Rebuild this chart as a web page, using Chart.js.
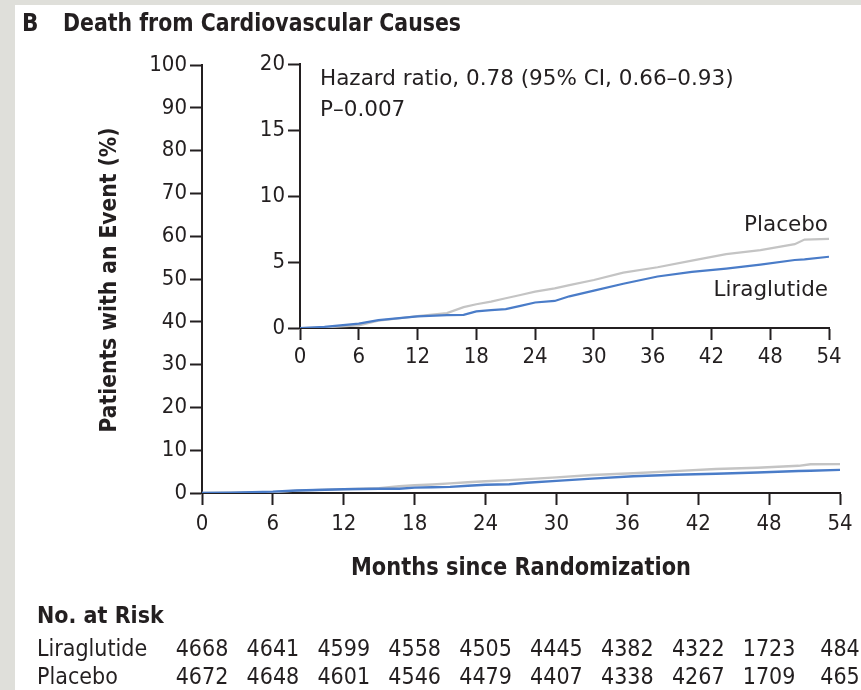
<!DOCTYPE html>
<html>
<head>
<meta charset="utf-8">
<script src="https://cdn.jsdelivr.net/npm/chart.js@4.4.1/dist/chart.umd.min.js"></script>
<style>
  body { margin: 0; background: #dfdfda; }
  #page { position: absolute; left: 15px; top: 5px; width: 846px; height: 685px; background: #fff; }
  canvas { position: absolute; }
  #main { left: 0; top: 0; }
  #inset { left: 230px; top: 40px; }
</style>
</head>
<body>
<div id="page"></div>
<canvas id="main" width="861" height="690"></canvas>
<canvas id="inset" width="631" height="340"></canvas>
<script>
// cumulative incidence (%)
const months      = [0, 2.5, 6, 8, 12, 15, 16.7, 18, 19.5, 21, 22.5, 24, 26, 27.5, 30, 33, 36.5, 40, 43.5, 47, 50.5, 51.5, 54];
const liraglutide = [0, 0.08, 0.33, 0.6, 0.88, 0.98, 1.0, 1.26, 1.35, 1.43, 1.68, 1.93, 2.05, 2.4, 2.83, 3.35, 3.9, 4.25, 4.5, 4.8, 5.15, 5.2, 5.4];
const placebo     = [0, 0.05, 0.2, 0.55, 0.9, 1.13, 1.58, 1.8, 2.0, 2.25, 2.5, 2.75, 3.0, 3.25, 3.64, 4.2, 4.6, 5.1, 5.6, 5.9, 6.35, 6.7, 6.75];

const riskMonths  = [0, 6, 12, 18, 24, 30, 36, 42, 48, 54];
const riskLira    = [4668, 4641, 4599, 4558, 4505, 4445, 4382, 4322, 1723, 484];
const riskPlacebo = [4672, 4648, 4601, 4546, 4479, 4407, 4338, 4267, 1709, 465];

const FONT = '"DejaVu Sans Condensed", "Liberation Sans Narrow", "Noto Sans", sans-serif';
const WIDE = '"DejaVu Sans", "Noto Sans", sans-serif';
const INK = '#231f20';
const BLUE = '#4a7cc8';
const GREY = '#c4c4c4';

function pts(ys) {
    return months.map((m, i) => ({ x: m, y: ys[i] }));
}

function datasets(width) {
    return [
        { label: 'Liraglutide', data: pts(liraglutide), borderColor: BLUE, borderWidth: width, pointRadius: 0, tension: 0 },
        { label: 'Placebo', data: pts(placebo), borderColor: GREY, borderWidth: width, pointRadius: 0, tension: 0 }
    ];
}

function axis(min, max, step, pad, fit) {
    return {
        type: 'linear', min: min, max: max,
        afterFit: fit,
        ticks: { stepSize: step, padding: pad, color: INK, font: { family: FONT, size: 22 } },
        grid: { drawOnChartArea: false, tickLength: 12, tickWidth: 2, tickColor: INK },
        border: { color: INK, width: 2 }
    };
}

function text(ctx, str, x, y, font, align, maxW) {
    ctx.font = font;
    ctx.textAlign = align || 'left';
    ctx.textBaseline = 'middle';
    ctx.fillStyle = INK;
    if (maxW) ctx.fillText(str, x, y, maxW);
    else ctx.fillText(str, x, y);
}

const mainText = {
    id: 'mainText',
    afterDraw(chart) {
        const ctx = chart.ctx;
        const bold = s => 'bold ' + s + 'px ' + FONT;
        const reg = s => s + 'px ' + FONT;
        ctx.save();
        text(ctx, 'B', 22, 25, bold(24));
        text(ctx, 'Death from Cardiovascular Causes', 63, 25, bold(24), 'left', 398);

        ctx.save();
        ctx.translate(110, 280);
        ctx.rotate(-Math.PI / 2);
        text(ctx, 'Patients with an Event (%)', 0, 0, bold(23), 'center', 305);
        ctx.restore();

        text(ctx, 'Months since Randomization', 521, 569, bold(24), 'center', 340);

        text(ctx, 'No. at Risk', 37, 617, bold(23), 'left', 127);
        text(ctx, 'Liraglutide', 37, 650, reg(23), 'left', 113);
        text(ctx, 'Placebo', 37, 678, reg(23));
        const xs = chart.scales.x;
        riskLira.forEach((n, i) => text(ctx, String(n), xs.getPixelForValue(riskMonths[i]), 650, reg(23), 'center'));
        riskPlacebo.forEach((n, i) => text(ctx, String(n), xs.getPixelForValue(riskMonths[i]), 678, reg(23), 'center'));
        ctx.restore();
    }
};

const insetText = {
    id: 'insetText',
    afterDraw(chart) {
        const ctx = chart.ctx;
        const f = '21.5px ' + WIDE;
        ctx.save();
        text(ctx, 'Hazard ratio, 0.78 (95% CI, 0.66\u20130.93)', 90, 39, f, 'left', 417);
        text(ctx, 'P\u20130.007', 90, 70, f);
        text(ctx, 'Placebo', 598, 185, f, 'right');
        text(ctx, 'Liraglutide', 598, 250, f, 'right');
        ctx.restore();
    }
};

new Chart(document.getElementById('main'), {
    type: 'line',
    data: { datasets: datasets(2.4) },
    options: {
        responsive: false,
        animation: false,
        layout: { padding: { left: 0, top: 65, right: 21, bottom: 0 } },
        plugins: { legend: { display: false }, tooltip: { enabled: false } },
        scales: {
            x: axis(0, 54, 6, 6, s => { s.height = 197; }),
            y: axis(0, 100, 10, 3, s => { s.width = 202; })
        }
    },
    plugins: [mainText]
});

new Chart(document.getElementById('inset'), {
    type: 'line',
    data: { datasets: datasets(2.2) },
    options: {
        responsive: false,
        animation: false,
        layout: { padding: { left: 0, top: 24, right: 32, bottom: 0 } },
        plugins: { legend: { display: false }, tooltip: { enabled: false } },
        scales: {
            x: axis(0, 54, 6, 4, s => { s.height = 52; }),
            y: axis(0, 20, 5, 3, s => { s.width = 70; })
        }
    },
    plugins: [insetText]
});
</script>
</body>
</html>
